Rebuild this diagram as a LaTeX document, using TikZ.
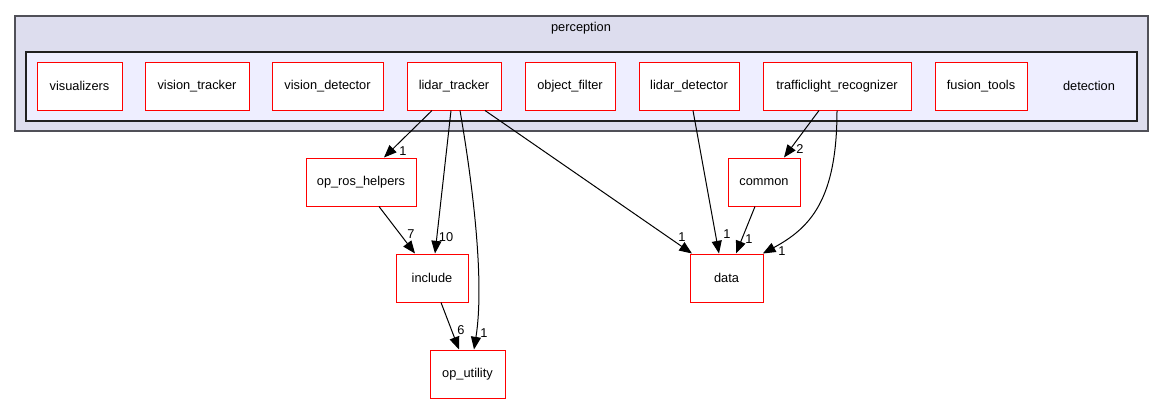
\documentclass[tikz,border=0pt]{standalone}
\usepackage{fontspec}
\setmainfont{Liberation Sans}
\usetikzlibrary{arrows.meta}
\definecolor{outerfill}{HTML}{DDDDEE}
\definecolor{innerfill}{HTML}{EEEEFF}
\definecolor{outerline}{HTML}{505058}
\definecolor{innerline}{HTML}{202020}
\definecolor{nodered}{HTML}{FF0000}
\tikzset{
  dirbox/.style={draw=nodered, fill=white, line width=0.75pt, minimum height=36pt, inner sep=0pt, font=\fontsize{9.6}{11}\selectfont},
  dep/.style={draw=black, line width=0.75pt, -{Triangle[length=9.5pt,width=7.5pt]}},
  lbl/.style={inner sep=0pt, font=\fontsize{9.6}{11}\selectfont},
  plain/.style={inner sep=0pt, font=\fontsize{9.6}{11}\selectfont}
}
\begin{document}
\begin{tikzpicture}[x=0.75pt,y=-0.75pt]
\useasboundingbox (0,0) rectangle (1164,404);
\draw[fill=outerfill, draw=outerline, line width=1.2pt] (15,16) rectangle (1148,131);
\node[plain] (perception) at (581,28) {perception};
\draw[fill=innerfill, draw=innerline, line width=0.9pt] (26,52) rectangle (1137,121);
\node[plain] (detection) at (1089,86) {detection};

\node[dirbox, minimum width=63.75pt] (visualizers) at (79.5,86) {visualizers};
\node[dirbox, minimum width=78pt] (vtrack) at (197,86) {vision\_tracker};
\node[dirbox, minimum width=83.25pt] (vdet) at (327.5,86) {vision\_detector};
\node[dirbox, minimum width=70.5pt] (lt) at (454,86) {lidar\_tracker};
\node[dirbox, minimum width=67.5pt] (of) at (570,86) {object\_filter};
\node[dirbox, minimum width=75pt] (ld) at (689,86) {lidar\_detector};
\node[dirbox, minimum width=111pt] (tr) at (837,86) {trafficlight\_recognizer};
\node[dirbox, minimum width=69pt] (ft) at (981,86) {fusion\_tools};

\node[dirbox, minimum width=82.5pt] (orh) at (361,182) {op\_ros\_helpers};
\node[dirbox, minimum width=54pt] (inc) at (432,278) {include};
\node[dirbox, minimum width=56.25pt] (opu) at (467.5,374) {op\_utility};
\node[dirbox, minimum width=54pt] (com) at (764,182) {common};
\node[dirbox, minimum width=54.75pt] (data) at (726.5,278) {data};

% edges
\draw[dep] ([xshift=-16.5pt]lt.south) -- ([xshift=17.25pt]orh.north);
\draw[dep] ([xshift=-2.25pt]lt.south) -- ([xshift=2.25pt]inc.north);
\draw[dep] ([xshift=4.5pt]lt.south) .. controls (472,180) and (485,280) .. ([xshift=4.875pt]opu.north);
\draw[dep] ([xshift=23.25pt]lt.south) -- ([xshift=-25.875pt]data.north);
\draw[dep] ([xshift=3pt]ld.south) -- ([xshift=-5.625pt]data.north);
\draw[dep] ([xshift=-13.5pt]tr.south) -- ([xshift=15pt]com.north);
\draw[dep] (tr.south) .. controls (837,200) and (810,228) .. ([xshift=-0.5pt]data.north east);
\draw[dep] ([xshift=-6.75pt]com.south) -- ([xshift=7.125pt]data.north);
\draw[dep] ([xshift=13.5pt]orh.south) -- ([xshift=-12.75pt]inc.north);
\draw[dep] ([xshift=6.75pt]inc.south) -- ([xshift=-6.375pt]opu.north);

% labels
\node[lbl] (l1) at (403,151) {1};
\node[lbl] (l2) at (446,237) {10};
\node[lbl] (l3) at (484,333) {1};
\node[lbl] (l4) at (682,237) {1};
\node[lbl] (l5) at (727,234) {1};
\node[lbl] (l6) at (800,149) {2};
\node[lbl] (l7) at (782,251) {1};
\node[lbl] (l8) at (749,239) {1};
\node[lbl] (l9) at (411,234) {7};
\node[lbl] (l10) at (461,330) {6};
\end{tikzpicture}
\end{document}
